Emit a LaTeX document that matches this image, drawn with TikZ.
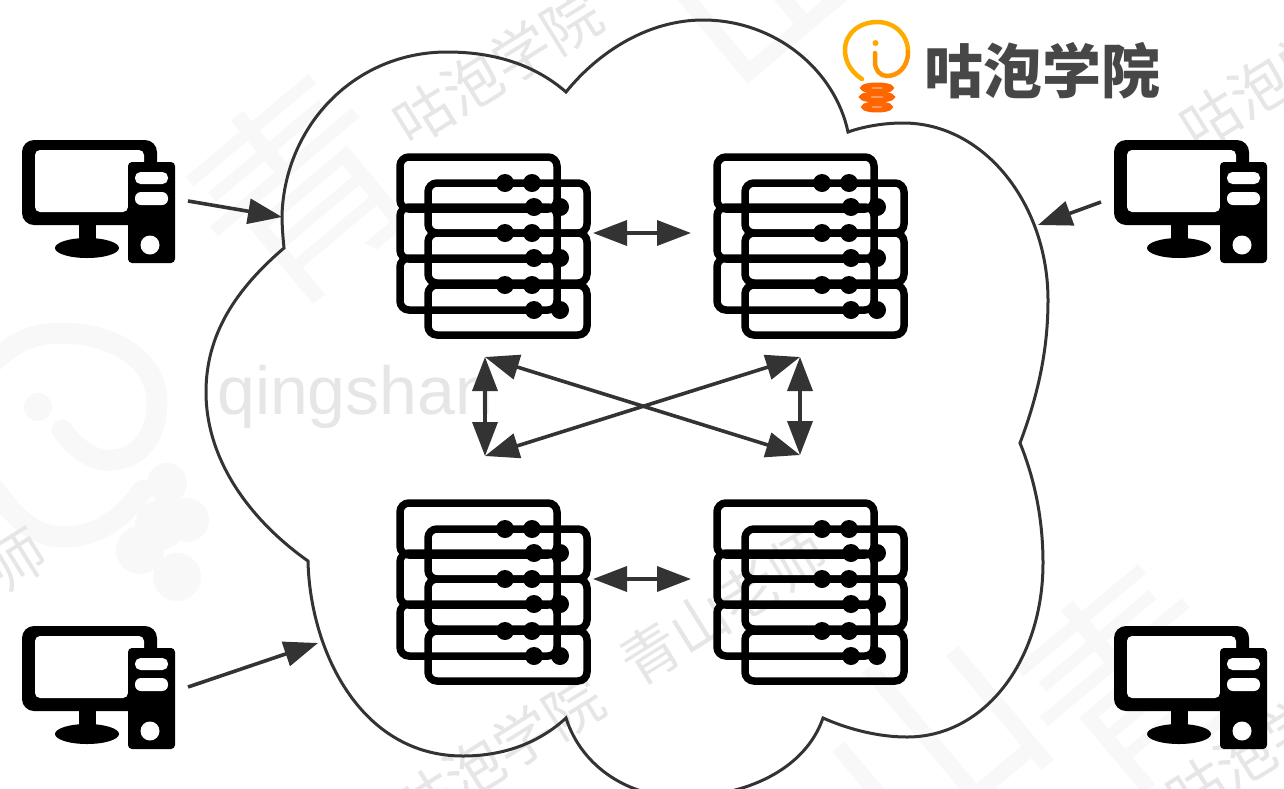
\documentclass[tikz,border=0pt]{standalone}
\usepackage{fontspec}
\setmainfont{Liberation Sans}
\newfontfamily\cjk{Noto Sans CJK SC}
\usetikzlibrary{arrows.meta}
\definecolor{ink}{HTML}{333333}
\definecolor{wm}{HTML}{E6E6E6}
\definecolor{wmfaint}{HTML}{F8F8F8}
\tikzset{
  x=1pt,y=-1pt,
  cloudline/.style={draw=ink,line width=3pt,line join=miter},
  link/.style={draw=ink,line width=3.6pt,{Triangle[length=34pt,width=25pt]}-{Triangle[length=34pt,width=25pt]}},
  oneway/.style={draw=ink,line width=3.6pt,-{Triangle[length=34pt,width=25pt]}},
  rowbox/.style={draw=black,line width=7.5pt,rounded corners=9pt},
  watermark/.style={text=wm,font=\cjk\fontsize{58}{60}\selectfont,inner sep=0pt},
  bigmark/.style={text=wmfaint,font=\cjk\fontsize{210}{210}\selectfont,inner sep=0pt},
  faintstroke/.style={draw=wmfaint,line width=21pt,line cap=round},
  serverstack/.pic={
    \foreach \y in {157,207,258}{\draw[rowbox] (400,\y) rectangle (557,\y+52);}
    \foreach \y in {183,233,285}{
      \draw[rowbox] (428,\y) rectangle (587,\y+50);
      \fill[black] (505,\y) circle[radius=9] (532,\y) circle[radius=9];}
    \foreach \y in {207,258,310}{
      \fill[black] (534,\y) circle[radius=9] (560,\y) circle[radius=9];}
  },
  computer/.pic={
    \fill[black,rounded corners=12pt] (22,140) rectangle (157,225);
    \fill[white,rounded corners=5pt] (35,150) -- (144,150) -- (144,170) -- (128,170) -- (128,212) -- (35,212) -- cycle;
    \fill[black] (79,224) rectangle (96,242);
    \fill[black] (87,248) ellipse[x radius=32,y radius=10];
    \fill[black,rounded corners=4pt] (128,162) rectangle (175,263);
    \fill[white,rounded corners=5.5pt] (135,172) rectangle (168,184);
    \fill[white,rounded corners=6pt] (135,192) rectangle (168,205);
    \fill[white] (150,245) circle[radius=9.5];
  }
}
\begin{document}
\begin{tikzpicture}
\useasboundingbox (0,0) rectangle (1284,788);
\clip (0,0) rectangle (1284,788);
% very faint large marks
\node[bigmark,rotate=40] (bg1) at (300,190) {青};
\node[bigmark,rotate=40] (bg2) at (1130,680) {青};
\node[bigmark,rotate=40] (bg3) at (930,740) {山};
\node[bigmark,rotate=40] (bg4) at (760,-30) {山};
\draw[faintstroke] (62,430) .. controls (80,455) and (100,462) .. (113,460)
  .. controls (140,458) and (157,435) .. (157,403)
  .. controls (157,360) and (115,333) .. (60,333)
  .. controls (30,333) and (10,345) .. (-10,365);
\draw[faintstroke] (-5,490) .. controls (20,525) and (40,537) .. (63,537)
  .. controls (100,537) and (125,515) .. (143,490);
\fill[wmfaint] (38,407) circle[radius=14];
\fill[wmfaint] (167,483) circle[radius=20] (187,520) circle[radius=22] (140,550) circle[radius=24] (177,577) circle[radius=24] (160,525) circle[radius=25];
% watermarks
\node[watermark,rotate=32] (w1) at (497,68) {咕泡学院};
\node[watermark,rotate=32] (w2) at (499,753) {咕泡学院};
\node[watermark,rotate=32] (w3) at (1284,72) {咕泡学院};
\node[watermark,rotate=32] (w4) at (1270,742) {咕泡学院};
\node[watermark,rotate=32] (w5) at (724,607) {青山老师};
\node[watermark,rotate=32] (w6) at (-57,606) {青山老师};
\node[text=wm,font=\fontsize{68}{70}\selectfont,inner sep=0pt,anchor=base west] (w7) at (217,414) {qingshan};
% cloud
\draw[cloudline] (566,92)
  .. controls (535,65) and (495,52) .. (447,52)
  .. controls (355,52) and (285,125) .. (282,215)
  .. controls (282,226) and (283,238) .. (284,248)
  .. controls (235,290) and (206,335) .. (206,392)
  .. controls (206,460) and (250,520) .. (308,561)
  .. controls (310,650) and (360,756) .. (463,756)
  .. controls (505,756) and (540,742) .. (566,718)
  .. controls (582,768) and (630,797) .. (680,797)
  .. controls (745,797) and (805,770) .. (823,718)
  .. controls (850,730) and (880,737) .. (907,737)
  .. controls (985,737) and (1043,660) .. (1043,563)
  .. controls (1043,520) and (1035,480) .. (1020,443)
  .. controls (1040,390) and (1048,345) .. (1048,300)
  .. controls (1048,205) and (985,123) .. (903,123)
  .. controls (885,123) and (865,126) .. (848,132)
  .. controls (835,70) and (775,20) .. (703,20)
  .. controls (650,20) and (600,50) .. (566,92) -- cycle;
% logo
\draw[color=orange!65!yellow,line width=4.5pt,line cap=round] (862,79)
  .. controls (848,70) and (845,58) .. (845,50)
  .. controls (845,33) and (860,22) .. (877,22)
  .. controls (895,22) and (908,35) .. (908,52);
\draw[color=orange!85!yellow,line width=4.5pt,line cap=round] (908,52)
  .. controls (908,68) and (897,76) .. (887,76)
  .. controls (880,76) and (875,70) .. (875,62) -- (875,53);
\fill[orange!70!yellow] (875.5,43) circle[radius=3];
\foreach \y/\r in {88/16,97/17,107/15}{
  \draw[color=orange!80!red,line width=5pt] (877,\y) ellipse[x radius=\r-2,y radius=3];}
\node[text=ink!90!white,font=\cjk\bfseries\fontsize{59}{61}\selectfont,inner sep=0pt,anchor=west] (brand) at (924,71) {咕泡学院};
% computers
\pic (pc1) at (0,0) {computer};
\pic (pc2) at (1092,0) {computer};
\pic (pc3) at (0,486) {computer};
\pic (pc4) at (1092,486) {computer};
% servers
\pic (sv1) at (0,0) {serverstack};
\pic (sv2) at (317,0) {serverstack};
\pic (sv3) at (0,346) {serverstack};
\pic (sv4) at (317,346) {serverstack};
% connector ends
\coordinate (a1) at (593,233); \coordinate (a2) at (691,233);
\coordinate (b1) at (593,579); \coordinate (b2) at (691,579);
\coordinate (tl) at (485,357); \coordinate (bl) at (485,456);
\coordinate (tr) at (800,357); \coordinate (br) at (800,455);
\coordinate (c1s) at (188,201); \coordinate (c1e) at (282,217);
\coordinate (c3s) at (188,687); \coordinate (c3e) at (318,643);
\coordinate (c2s) at (1101,202); \coordinate (c2e) at (1038,225);
\draw[link] (a1) -- (a2);
\draw[link] (b1) -- (b2);
\draw[link] (tl) -- (bl);
\draw[link] (tr) -- (br);
\draw[link] (tl) -- (br);
\draw[link] (bl) -- (tr);
\draw[oneway] (c1s) -- (c1e);
\draw[oneway] (c3s) -- (c3e);
\draw[oneway] (c2s) -- (c2e);
\end{tikzpicture}
\end{document}
